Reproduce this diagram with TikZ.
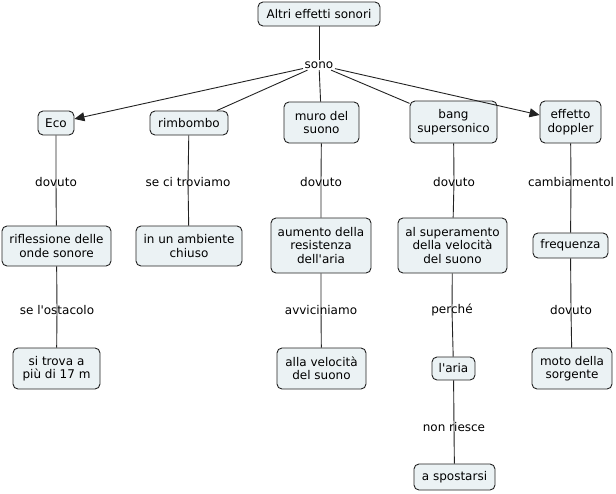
\documentclass[tikz,border=0pt]{standalone}
\usepackage{fontspec}
\setmainfont{DejaVu Sans}
\usepackage{textcomp}
\usetikzlibrary{arrows.meta}
\definecolor{cfill}{HTML}{EBF2F4}
\definecolor{cline}{HTML}{222222}
\newcommand{\apo}{\textquotesingle}
\begin{document}
\begin{tikzpicture}[x=1pt,y=1pt,
  concept/.style={draw=cline,line width=0.9pt,fill=cfill,rounded corners=5pt,align=center,
    font=\fontsize{12}{13.5}\selectfont,inner sep=2pt},
  lab/.style={align=center,font=\fontsize{12}{13.5}\selectfont,inner sep=1.5pt},
  conn/.style={draw=cline,line width=0.9pt},
  arr/.style={conn,-{Triangle[length=10pt,width=9pt]}}]
\useasboundingbox (0,0) rectangle (616,-493);
% concepts
\node[concept,minimum width=122pt,minimum height=24pt] (altri) at (319,-14) {Altri effetti sonori};
\node[concept,minimum width=36pt,minimum height=24pt] (eco) at (56,-123) {Eco};
\node[concept,minimum width=78pt,minimum height=24pt] (rimb) at (189,-123) {rimbombo};
\node[concept,minimum width=75pt,minimum height=41pt] (muro) at (321.5,-122.5) {muro del\\suono};
\node[concept,minimum width=87pt,minimum height=42pt] (bang) at (453.5,-122) {bang\\supersonico};
\node[concept,minimum width=61pt,minimum height=42pt] (dopp) at (570.5,-122) {effetto\\doppler};
\node[concept,minimum width=109pt,minimum height=40pt] (rifl) at (56.5,-246) {riflessione delle\\onde sonore};
\node[concept,minimum width=106pt,minimum height=40pt] (amb) at (189,-246) {in un ambiente\\chiuso};
\node[concept,minimum width=100pt,minimum height=55pt] (aum) at (321,-245.5) {aumento della\\resistenza\\dell\apo aria};
\node[concept,minimum width=109pt,minimum height=55pt] (sup) at (452.5,-245.5) {al superamento\\della velocità\\del suono};
\node[concept,minimum width=75pt,minimum height=25pt] (freq) at (570.5,-245.5) {frequenza};
\node[concept,minimum width=87pt,minimum height=41pt] (trova) at (56.5,-368.5) {si trova a\\più di 17 m};
\node[concept,minimum width=89pt,minimum height=41pt] (vel) at (321.5,-368.5) {alla velocità\\del suono};
\node[concept,minimum width=43pt,minimum height=23pt] (aria) at (453.5,-368.5) {l\apo aria};
\node[concept,minimum width=80pt,minimum height=41pt] (moto) at (572,-368.5) {moto della\\sorgente};
\node[concept,minimum width=81pt,minimum height=26pt] (spost) at (454.5,-477) {a spostarsi};
% linking phrases
\node[lab] (sono) at (319,-65) {sono};
\node[lab] (dov1) at (56,-182) {dovuto};
\node[lab] (seci) at (188,-182) {se ci troviamo};
\node[lab] (dov2) at (321,-182) {dovuto};
\node[lab] (dov3) at (454,-182) {dovuto};
\node[lab] (camb) at (571,-182) {cambiamentol};
\node[lab] (seost) at (57,-310) {se l\apo ostacolo};
\node[lab] (avv) at (321,-310) {avviciniamo};
\node[lab] (perc) at (452,-310) {perché};
\node[lab] (dov4) at (571,-310) {dovuto};
\node[lab] (nonr) at (454,-427) {non riesce};
% connectors
\draw[conn] (altri) -- (sono);
\draw[arr] (sono) -- (eco);
\draw[conn] (sono) -- (rimb);
\draw[conn] (sono) -- (muro);
\draw[conn] (sono) -- (bang);
\draw[arr] (sono) -- (dopp);
\draw[conn] (eco) -- (dov1.center) -- (rifl);
\draw[conn] (rimb) -- (seci.center) -- (amb);
\draw[conn] (muro) -- (dov2.center) -- (aum);
\draw[conn] (bang) -- (dov3.center) -- (sup);
\draw[conn] (dopp) -- (camb.center) -- (freq);
\draw[conn] (rifl) -- (seost.center) -- (trova);
\draw[conn] (aum) -- (avv.center) -- (vel);
\draw[conn] (sup) -- (perc.center) -- (aria);
\draw[conn] (freq) -- (dov4.center) -- (moto);
\draw[conn] (aria) -- (nonr.center) -- (spost);
\end{tikzpicture}
\end{document}
